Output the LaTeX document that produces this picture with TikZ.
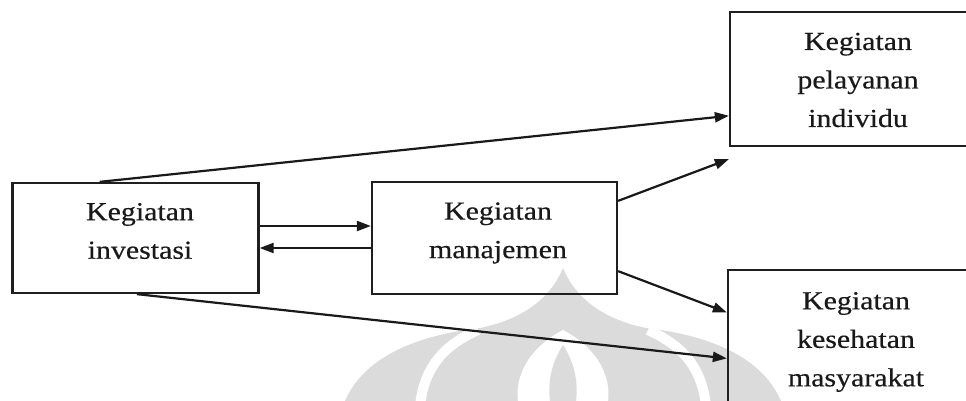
\documentclass[tikz,border=0pt]{standalone}
\usepackage{fontspec}
\setmainfont[FakeStretch=1.15,FakeBold=0.4]{Liberation Serif}
\usetikzlibrary{arrows.meta,calc}

\tikzset{
  box/.style={draw=black!88, line width=2.3pt, inner sep=0pt},
  label/.style={align=center, inner sep=0pt,
    font=\fontsize{26}{38.5}\selectfont, text=black!90},
  arr/.style={draw=black!90, line width=2.2pt,
    -{Triangle[length=14pt,width=10pt]}},
  wm/.style={fill=black!14},
}

\begin{document}
\begin{tikzpicture}[x=1pt,y=-1pt]
  \useasboundingbox (0,0) rectangle (966,401);
  \clip (0,0) rectangle (966,401);
  \fill[white] (0,0) rectangle (966,401);

  % faint emblem in the background
  \fill[wm] (345,401) .. controls (365,355) and (420,335) .. (480,328)
        .. controls (520,320) and (550,300) .. (563,268)
        .. controls (576,300) and (606,320) .. (646,328)
        .. controls (706,335) and (761,355) .. (781,401) -- cycle;
  \draw[white, line width=10pt] (420,405) .. controls (425,365) and (445,345) .. (478,330);
  \draw[white, line width=10pt] (706,405) .. controls (701,365) and (681,345) .. (648,330);
  \fill[white] (563,330) .. controls (525,350) and (515,380) .. (518,401)
        -- (608,401) .. controls (611,380) and (601,350) .. (563,330) -- cycle;
  \fill[wm] (563,345) .. controls (550,365) and (548,385) .. (550,401)
        -- (576,401) .. controls (578,385) and (576,365) .. (563,345) -- cycle;

  % boxes
  \node[box, minimum width=246pt, minimum height=110pt] (inv) at (135.5,238) {};
  \node[box, minimum width=245pt, minimum height=112pt] (man) at (494.5,238) {};
  \node[box, minimum width=256pt, minimum height=134pt] (pel) at (858,79) {};
  \node[box, minimum width=258pt, minimum height=134pt] (kes) at (857,337) {};

  % box texts
  \node[label] (invt) at (140,231) {Kegiatan\\investasi};
  \node[label] (mant) at (498,233) {Kegiatan\\manajemen};
  \node[label] (pelt) at (858,80) {Kegiatan\\pelayanan\\individu};
  \node[label] (kest) at (856,342) {Kegiatan\\kesehatan\\masyarakat};

  % connectors
  \draw[arr] ($(inv.north west)!0.356!(inv.north east)$)
          -- ($(pel.north west)!0.77!(pel.south west)$);
  \draw[arr] ($(inv.south west)!0.506!(inv.south east)$)
          -- ($(kes.north west)!0.657!(kes.south west)$);
  \draw[arr] ([yshift=12pt]inv.east) -- ([yshift=12pt]man.west);
  \draw[arr] ([yshift=-10pt]man.west) -- ([yshift=-10pt]inv.east);
  \draw[arr] ([yshift=-20pt]man.north east) -- ([yshift=-12pt]pel.south west);
  \draw[arr] ([yshift=24pt]man.south east)
          -- ($(kes.north west)!0.32!(kes.south west)$);
\end{tikzpicture}
\end{document}
